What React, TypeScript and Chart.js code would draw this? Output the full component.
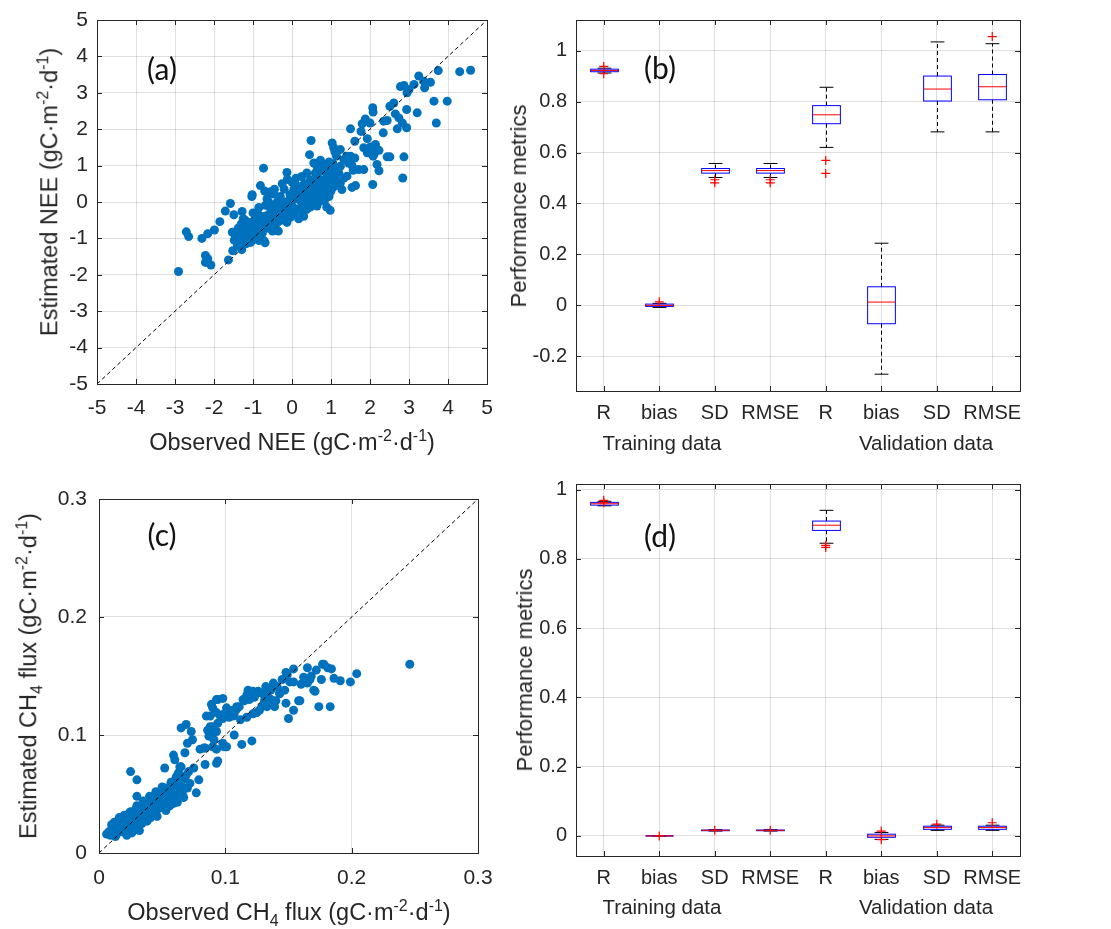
import React, { useEffect, useRef } from 'react';
import { Chart, registerables } from 'chart.js';
Chart.register(...registerables);

// ---------------- DATA ----------------
// Panel (a): observed vs estimated NEE (gC m-2 d-1)
const neeObs = [
  -2.91, -2.71, -2.65, -2.31, -2.16, -1.99, -1.85, -2.22, -2.16, -2.22, -2.08, -1.63, -1.71, -1.58, -1.49, -1.53, -1.48, -1.52, -1.29, -1.28, -1.25, -1.03, -0.73, -0.81, -0.70, -0.47, -0.72, -0.69,
  -1.02, -1.40, -1.45, -1.32, -1.19, -1.28, -1.15, -1.06, -0.98, -0.89, -0.81, -0.85, -0.72, -1.06, -0.94, -0.81, -1.02, -0.89, -0.64, -0.55, -0.43, -0.55, -0.38, -0.30, -0.17, -0.09, 0.04, 0.17, 0.30, 0.13, 0.26, 0.38, 0.47, 0.55, 0.68, 0.81, 0.89, -0.64, -0.55, -0.68, -0.30, -0.13, 0.17, -0.04, -0.13, -0.38, 0.04,
  4.58, 4.30, 3.75, 3.55, 3.40, 3.25, 3.38, 3.13, 2.87, 2.78, 3.00, 2.95, 3.64, 3.98, 3.70, 3.21, 2.94, 2.61, 2.51, 2.07, 2.08, 1.88, 1.80, 2.00, 2.35, 2.44, 2.65, 2.74, 2.83, 2.94, 2.70, 2.34, 1.50, 1.77, 1.61, 1.93, 1.84, 2.01, 2.14, 2.11, 2.23, 1.93, 2.08, 2.18, 2.23, 2.44, 2.51, 2.87, 2.84, 2.07, 1.63, 1.54, 1.84, 1.71, 1.57, 1.54, 1.61, 1.50, 1.28, 0.98, 0.49, 0.45, 0.56, 0.64, 1.03, 1.24, 1.14, 1.07, 1.33, 1.41, 1.45, 1.24, 1.07, 1.15, 0.85, 0.73, 0.90, 1.33, 1.41, 1.24, 1.03, 0.81, 0.64, 0.47, 0.38, 0.56, 0.73, 0.90, 0.47, 0.30, 0.83, 0.64, 0.38, 0.30,
  -1.38, -1.35, -1.22, -1.18, -1.12, -1.10, -0.95, -0.92, -0.88, -0.78, -0.75, -0.66, -0.60, -0.58, -0.50, -0.45, -0.40, -0.35, -0.25, -0.22, -0.20, -0.15, -0.10, -0.05, 0.00, 0.05, 0.08, 0.10, 0.12, 0.20, 0.22, 0.25, 0.32, 0.35, 0.40, 0.45, 0.50, 0.60, 0.62, 0.70, 0.75, 0.78, 0.85, 0.92, 0.95, 1.00, 1.05, 1.10, 1.15, 1.20, 1.00, -0.20, -0.30, 0.00, 0.10, 0.25, 0.60, -0.60, -0.45, -0.25, -0.12, -1.30, -1.20, -1.00, -0.85, -0.35, -0.50, -0.15, 0.15, 0.28,
  0.60, 0.73, 0.80, 0.95, 1.05, 1.10,
  -1.42, -1.36, -1.30, -1.26, -1.16, -1.08, -1.05, -0.98, -0.96, -0.90, -0.84, -0.76, -0.70, -0.62, -0.52, -0.48, -0.42, -0.33, -0.27, -0.18, -0.07, 0.02, 0.07, 0.18, 0.33, 0.42, 0.52, 0.66, 0.88, 1.12,
];
const neeEst = [
  -1.91, -0.82, -0.95, -1.00, -0.87, -0.77, -0.54, -1.47, -1.56, -1.66, -1.73, -1.59, -0.25, -0.04, -0.35, -0.83, -1.05, -1.34, -1.31, -0.26, -0.46, 0.15, 0.93, 0.45, 0.30, 0.22, -1.06, -1.12,
  0.20, -1.20, -0.93, -0.83, -0.74, -1.02, -0.93, -1.11, -1.02, -0.93, -0.83, -1.06, -0.69, -0.56, -0.42, -0.51, -0.74, -0.28, -0.37, -0.56, -0.46, -0.19, 0.00, -0.19, -0.32, -0.05, 0.09, 0.19, 0.28, -0.19, -0.05, 0.09, -0.14, 0.19, 0.00, 0.09, -0.14, 0.09, 0.28, -0.09, -0.51, -0.56, -0.46, -0.42, 0.81, -0.57, -0.31,
  3.62, 3.58, 3.61, 3.29, 3.14, 3.46, 3.32, 3.23, 3.20, 3.17, 3.09, 3.00, 2.77, 2.77, 2.17, 2.45, 2.54, 2.72, 2.63, 2.59, 2.47, 2.28, 2.15, 2.17, 2.22, 2.24, 2.42, 2.31, 2.17, 2.04, 2.01, 1.90, 2.01, 1.94, 1.67, 1.74, 1.49, 1.51, 1.58, 1.33, 1.42, 1.35, 1.26, 1.03, 0.86, 1.24, 1.24, 1.24, 0.66, 0.48, 0.45, 0.40, 0.89, 0.89, 0.87, 1.00, 1.21, 1.26, 0.34, -0.23, 1.69, 1.30, 1.07, 0.98, 1.62, 1.44, 1.26, 1.49, 1.17, 1.26, 1.07, 0.98, 0.89, 0.75, 0.98, 0.84, 0.71, 0.66, 0.71, 0.52, 0.48, 0.43, 0.52, 0.61, 0.80, 0.34, 0.25, 0.20, 0.07, 0.16, 0.03, -0.11, -0.20, -0.39,
  -0.72, -1.05, -0.95, -1.15, -0.85, -0.62, -0.78, -0.60, -0.72, -0.62, -0.40, -0.55, -0.72, -0.42, -0.35, -0.60, -0.25, -0.42, -0.30, -0.12, -0.45, 0.00, -0.25, 0.20, -0.10, 0.35, -0.25, 0.10, 0.45, 0.05, 0.35, -0.25, 0.50, -0.10, 0.30, 0.40, 0.00, 0.10, 0.30, 0.45, 0.20, 0.60, 0.35, 0.50, 0.15, 0.70, 0.40, 0.60, 0.95, 0.80, 0.30, 0.35, 0.15, 0.55, 0.65, 0.70, 0.80, 0.00, 0.35, 0.50, 0.62, -0.60, -0.50, -0.30, -0.15, -0.80, -0.80, -0.15, 0.30, 0.45,
  1.06, 1.15, 1.02, 1.10, 1.05, 1.38,
  -0.80, -0.95, -0.70, -0.88, -0.68, -0.78, -0.95, -0.55, -0.85, -0.50, -0.70, -0.85, -0.50, -0.62, -0.48, -0.25, -0.10, -0.30, -0.08, -0.22, 0.05, 0.25, 0.15, 0.40, 0.35, 0.20, 0.55, 0.65, 0.85, 0.45,
];
const neeDiag = [-5, 5];
const neeTicks = [-5, -4, -3, -2, -1, 0, 1, 2, 3, 4, 5];
const neeTickLabels = ['-5', '-4', '-3', '-2', '-1', '0', '1', '2', '3', '4', '5'];

// Panel (c): observed vs estimated CH4 flux (gC m-2 d-1)
const ch4Obs = [
  0.246, 0.204, 0.199, 0.191, 0.186, 0.184, 0.183, 0.176, 0.174, 0.177, 0.172, 0.165, 0.168, 0.171, 0.163, 0.160, 0.159, 0.154, 0.150, 0.154, 0.148, 0.151, 0.147, 0.143, 0.148, 0.140, 0.139, 0.138, 0.132, 0.127, 0.123, 0.129, 0.125, 0.119, 0.117, 0.114, 0.111, 0.109, 0.106, 0.103, 0.101, 0.098, 0.096, 0.093, 0.090, 0.098, 0.093, 0.085, 0.088, 0.106, 0.118, 0.122, 0.132, 0.135, 0.131,
  0.121, 0.113, 0.107, 0.094, 0.101, 0.098, 0.090, 0.083, 0.084, 0.079, 0.077, 0.072, 0.069, 0.070, 0.069, 0.065, 0.074, 0.073, 0.059, 0.060, 0.052, 0.063, 0.064, 0.061, 0.025, 0.030, 0.030, 0.090, 0.101, 0.088, 0.094, 0.091, 0.080, 0.068, 0.065,
  0.178, 0.181, 0.158, 0.089, 0.094, 0.086, 0.090, 0.093, 0.087, 0.099, 0.093, 0.084, 0.093, 0.107, 0.115, 0.120, 0.126, 0.131, 0.136, 0.141, 0.145, 0.149, 0.154, 0.162, 0.165, 0.170, 0.167, 0.143, 0.138, 0.133, 0.127, 0.122, 0.117, 0.112, 0.109, 0.103, 0.099,
  0.006, 0.008, 0.009, 0.010, 0.011, 0.012, 0.013, 0.014, 0.015, 0.016, 0.017, 0.018, 0.019, 0.020, 0.021, 0.022, 0.023, 0.024, 0.025, 0.026, 0.027, 0.028, 0.029, 0.030, 0.031, 0.032, 0.033, 0.034, 0.035, 0.036, 0.037, 0.038, 0.039, 0.040, 0.041, 0.042, 0.043, 0.044, 0.045, 0.046, 0.047, 0.048, 0.049, 0.050, 0.051, 0.052, 0.053, 0.054, 0.055, 0.056, 0.057, 0.058, 0.060, 0.061, 0.062, 0.063, 0.064, 0.066, 0.067, 0.068, 0.070,
  0.020, 0.025, 0.030, 0.035, 0.040, 0.045, 0.050, 0.012, 0.016, 0.022, 0.032, 0.027, 0.041,
  0.010, 0.013, 0.018, 0.021, 0.024, 0.026, 0.029, 0.031, 0.034, 0.038, 0.042, 0.046, 0.048, 0.053, 0.057, 0.059, 0.062, 0.066, 0.071, 0.075,
];
const ch4Est = [
  0.160, 0.152, 0.145, 0.146, 0.148, 0.156, 0.124, 0.147, 0.124, 0.160, 0.155, 0.157, 0.150, 0.137, 0.147, 0.143, 0.129, 0.121, 0.114, 0.156, 0.153, 0.145, 0.138, 0.136, 0.127, 0.129, 0.124, 0.144, 0.141, 0.136, 0.132, 0.124, 0.119, 0.130, 0.134, 0.130, 0.124, 0.124, 0.121, 0.119, 0.116, 0.114, 0.116, 0.119, 0.123, 0.131, 0.130, 0.116, 0.116, 0.116, 0.138, 0.137, 0.136, 0.131, 0.129,
  0.095, 0.092, 0.100, 0.078, 0.090, 0.093, 0.090, 0.089, 0.075, 0.062, 0.051, 0.059, 0.066, 0.093, 0.109, 0.106, 0.096, 0.103, 0.083, 0.079, 0.072, 0.068, 0.073, 0.064, 0.069, 0.062, 0.048, 0.102, 0.123, 0.107, 0.110, 0.096, 0.088, 0.085, 0.073,
  0.160, 0.157, 0.129, 0.126, 0.130, 0.104, 0.107, 0.103, 0.099, 0.090, 0.088, 0.089, 0.076, 0.118, 0.129, 0.135, 0.137, 0.133, 0.138, 0.141, 0.147, 0.151, 0.145, 0.149, 0.144, 0.138, 0.147, 0.135, 0.129, 0.124, 0.121, 0.118, 0.115, 0.113, 0.122, 0.115, 0.118,
  0.016, 0.018, 0.015, 0.020, 0.017, 0.022, 0.019, 0.016, 0.024, 0.020, 0.026, 0.018, 0.023, 0.028, 0.021, 0.025, 0.031, 0.019, 0.027, 0.022, 0.033, 0.029, 0.024, 0.035, 0.027, 0.031, 0.038, 0.025, 0.033, 0.029, 0.040, 0.035, 0.031, 0.043, 0.037, 0.033, 0.046, 0.039, 0.035, 0.042, 0.048, 0.038, 0.045, 0.052, 0.041, 0.047, 0.055, 0.044, 0.050, 0.040, 0.053, 0.046, 0.057, 0.049, 0.043, 0.060, 0.052, 0.056, 0.047, 0.063, 0.055,
  0.032, 0.035, 0.040, 0.044, 0.048, 0.052, 0.056, 0.026, 0.030, 0.015, 0.019, 0.024, 0.030,
  0.024, 0.014, 0.027, 0.030, 0.034, 0.017, 0.037, 0.021, 0.041, 0.027, 0.045, 0.031, 0.050, 0.036, 0.060, 0.042, 0.066, 0.050, 0.069, 0.072,
];
const ch4Diag = [0, 0.3];
const ch4Ticks = [0, 0.1, 0.2, 0.3];
const ch4TickLabels = ['0', '0.1', '0.2', '0.3'];

// Box plots (b) and (d): categories
const catPos = [1, 2, 3, 4, 5, 6, 7, 8];
const catLabels = ['R', 'bias', 'SD', 'RMSE', 'R', 'bias', 'SD', 'RMSE'];
const groupLabels = ['Training data', 'Validation data'];

// Panel (b): NEE model performance metrics
const bQ1 = [0.917, -0.004, 0.519, 0.519, 0.713, -0.072, 0.802, 0.807];
const bMed = [0.922, 0.0, 0.529, 0.529, 0.748, 0.013, 0.849, 0.858];
const bQ3 = [0.927, 0.005, 0.537, 0.537, 0.784, 0.073, 0.9, 0.906];
const bLo = [0.912, -0.008, 0.502, 0.502, 0.62, -0.27, 0.681, 0.681];
const bHi = [0.931, 0.008, 0.557, 0.557, 0.856, 0.244, 1.034, 1.027];
const bOutCat = [1, 1, 2, 3, 3, 4, 4, 5, 5, 8];
const bOutVal = [0.938, 0.909, 0.014, 0.493, 0.481, 0.493, 0.481, 0.569, 0.518, 1.055];
const bYTicks = [-0.2, 0, 0.2, 0.4, 0.6, 0.8, 1];
const bYTickLabels = ['-0.2', '0', '0.2', '0.4', '0.6', '0.8', '1'];

// Panel (d): CH4 model performance metrics
const dQ1 = [0.955, 0, 0.015, 0.015, 0.882, -0.004, 0.019, 0.019];
const dMed = [0.959, 0, 0.016, 0.016, 0.897, 0.0, 0.024, 0.024];
const dQ3 = [0.963, 0, 0.017, 0.017, 0.909, 0.005, 0.028, 0.028];
const dLo = [0.953, 0, 0.014, 0.014, 0.845, -0.01, 0.016, 0.016];
const dHi = [0.966, 0, 0.018, 0.018, 0.94, 0.01, 0.031, 0.031];
const dOutCat = [1, 1, 2, 3, 4, 5, 5, 6, 6, 7, 8];
const dOutVal = [0.969, 0.962, 0.0, 0.016, 0.016, 0.839, 0.833, 0.014, -0.011, 0.034, 0.038];
const dYTicks = [0, 0.2, 0.4, 0.6, 0.8, 1];
const dYTickLabels = ['0', '0.2', '0.4', '0.6', '0.8', '1'];

// ---------------- STYLE ----------------
const SANS = '"Liberation Sans", Arial, Helvetica, sans-serif';
const INK = '#262626';
const GRID = 'rgba(38,38,38,0.15)';
const BLUE = '#0072BD';

const framePlugin = {
  id: 'frame',
  afterDraw(chart: any) {
    const { ctx, chartArea: a, scales } = chart;
    const L = 5;
    ctx.save();
    ctx.strokeStyle = INK;
    ctx.lineWidth = 1;
    ctx.setLineDash([]);
    ctx.beginPath();
    const xs = scales.x;
    const ys = scales.y;
    xs.ticks.forEach((t: any) => {
      const p = Math.round(xs.getPixelForValue(t.value)) + 0.5;
      ctx.moveTo(p, a.bottom);
      ctx.lineTo(p, a.bottom - L);
      ctx.moveTo(p, a.top);
      ctx.lineTo(p, a.top + L);
    });
    ys.ticks.forEach((t: any) => {
      const p = Math.round(ys.getPixelForValue(t.value)) + 0.5;
      ctx.moveTo(a.left, p);
      ctx.lineTo(a.left + L, p);
      ctx.moveTo(a.right, p);
      ctx.lineTo(a.right - L, p);
    });
    ctx.stroke();
    ctx.strokeRect(
      Math.round(a.left) + 0.5,
      Math.round(a.top) + 0.5,
      Math.round(a.right - a.left),
      Math.round(a.bottom - a.top)
    );
    ctx.restore();
  },
};

const boxPlugin = {
  id: 'boxes',
  beforeDatasetsDraw(chart: any, _args: any, opts: any) {
    const { ctx, scales } = chart;
    const x = scales.x;
    const y = scales.y;
    const { q1, med, q3, lo, hi, pos, half } = opts;
    const Y = (v: number) => y.getPixelForValue(v);
    ctx.save();
    ctx.lineWidth = 1;
    pos.forEach((c: number, i: number) => {
      const cx = Math.round(x.getPixelForValue(c)) + 0.5;
      const hw = x.getPixelForValue(c + half) - x.getPixelForValue(c);
      const cw = hw / 2;
      ctx.strokeStyle = '#000000';
      ctx.setLineDash([4, 3]);
      ctx.beginPath();
      ctx.moveTo(cx, Y(q3[i]));
      ctx.lineTo(cx, Y(hi[i]));
      ctx.moveTo(cx, Y(q1[i]));
      ctx.lineTo(cx, Y(lo[i]));
      ctx.stroke();
      ctx.setLineDash([]);
      ctx.beginPath();
      ctx.moveTo(cx - cw, Y(hi[i]));
      ctx.lineTo(cx + cw, Y(hi[i]));
      ctx.moveTo(cx - cw, Y(lo[i]));
      ctx.lineTo(cx + cw, Y(lo[i]));
      ctx.stroke();
      ctx.strokeStyle = '#0000FF';
      ctx.strokeRect(cx - hw, Y(q3[i]), 2 * hw, Y(q1[i]) - Y(q3[i]));
      ctx.strokeStyle = '#FF0000';
      ctx.beginPath();
      ctx.moveTo(cx - hw, Y(med[i]));
      ctx.lineTo(cx + hw, Y(med[i]));
      ctx.stroke();
    });
    ctx.restore();
  },
};

const fitY = (w: number) => (s: any) => {
  s.width = w;
  s.paddingTop = 0;
  s.paddingBottom = 0;
  s.paddingLeft = 0;
  s.paddingRight = 0;
};
const fitX = (h: number) => (s: any) => {
  s.height = h;
  s.paddingTop = 0;
  s.paddingBottom = 0;
  s.paddingLeft = 0;
  s.paddingRight = 0;
};

type Geo = { top: number; right: number; yW: number; xH: number; xPad: number; yPad: number; font: number };

function axis(
  min: number,
  max: number,
  values: number[],
  labels: string[],
  geo: Geo,
  isX: boolean
) {
  return {
    type: 'linear',
    min,
    max,
    afterBuildTicks: (s: any) => {
      s.ticks = values.map((v) => ({ value: v }));
    },
    afterFit: isX ? fitX(geo.xH) : fitY(geo.yW),
    ticks: {
      autoSkip: false,
      maxRotation: 0,
      minRotation: 0,
      padding: isX ? geo.xPad : geo.yPad,
      color: INK,
      font: { family: SANS, size: geo.font },
      callback: (_v: any, i: number) => labels[i],
    },
    grid: { color: GRID, lineWidth: 1, drawTicks: false },
    border: { display: false },
  };
}

function scatterConfig(
  obs: number[],
  est: number[],
  diag: number[],
  ticks: number[],
  tickLabels: string[],
  geo: Geo
) {
  const min = ticks[0];
  const max = ticks[ticks.length - 1];
  return {
    type: 'scatter',
    data: {
      datasets: [
        {
          data: diag.map((v) => ({ x: v, y: v })),
          showLine: true,
          borderColor: '#000000',
          borderWidth: 1,
          borderDash: [4, 3],
          pointRadius: 0,
          fill: false,
        },
        {
          data: obs.map((x, i) => ({ x, y: est[i] })),
          pointRadius: 4.5,
          pointHoverRadius: 4.5,
          backgroundColor: BLUE,
          borderWidth: 0,
        },
      ],
    },
    options: {
      responsive: false,
      animation: false,
      devicePixelRatio: 1,
      events: [],
      layout: { padding: { top: geo.top, right: geo.right, left: 0, bottom: 0 } },
      plugins: { legend: { display: false }, tooltip: { enabled: false } },
      scales: {
        x: axis(min, max, ticks, tickLabels, geo, true),
        y: axis(min, max, ticks, tickLabels, geo, false),
      },
    },
    plugins: [framePlugin],
  };
}

function boxConfig(
  stats: { q1: number[]; med: number[]; q3: number[]; lo: number[]; hi: number[] },
  outCat: number[],
  outVal: number[],
  yMin: number,
  yMax: number,
  yTicks: number[],
  yLabels: string[],
  geo: Geo
) {
  return {
    type: 'scatter',
    data: {
      datasets: [
        {
          data: outCat.map((c, i) => ({ x: c, y: outVal[i] })),
          pointStyle: 'cross',
          pointRadius: 4.5,
          pointHoverRadius: 4.5,
          borderColor: '#FF0000',
          backgroundColor: '#FF0000',
          borderWidth: 1.2,
        },
      ],
    },
    options: {
      responsive: false,
      animation: false,
      devicePixelRatio: 1,
      events: [],
      layout: { padding: { top: geo.top, right: geo.right, left: 0, bottom: 0 } },
      plugins: {
        legend: { display: false },
        tooltip: { enabled: false },
        boxes: { ...stats, pos: catPos, half: 0.25 },
      },
      scales: {
        x: axis(0.5, 8.5, catPos, catLabels, geo, true),
        y: axis(yMin, yMax, yTicks, yLabels, geo, false),
      },
    },
    plugins: [boxPlugin, framePlugin],
  };
}

function ChartBox(props: { left: number; top: number; width: number; height: number; make: () => any }) {
  const ref = useRef<HTMLCanvasElement>(null);
  useEffect(() => {
    const chart = new Chart(ref.current as HTMLCanvasElement, props.make());
    return () => chart.destroy();
  }, []);
  return (
    <canvas
      ref={ref}
      width={props.width}
      height={props.height}
      style={{ position: 'absolute', left: props.left, top: props.top, width: props.width, height: props.height }}
    />
  );
}

function Txt(props: { x: number; y: number; size: number; rot?: boolean; family?: string; color?: string; children: any }) {
  return (
    <div
      style={{
        position: 'absolute',
        left: props.x,
        top: props.y,
        transform: `translate(-50%, -50%)${props.rot ? ' rotate(-90deg)' : ''}`,
        whiteSpace: 'nowrap',
        fontSize: props.size,
        fontFamily: props.family || SANS,
        color: props.color || INK,
        lineHeight: 1,
      }}
    >
      {props.children}
    </div>
  );
}

const Sup = (p: { t: string }) => (
  <span style={{ fontSize: '0.68em', position: 'relative', top: '-0.55em' }}>{p.t}</span>
);
const Sub = (p: { t: string }) => (
  <span style={{ fontSize: '0.68em', position: 'relative', top: '0.35em' }}>{p.t}</span>
);
const Unit = () => (
  <>
    (gC·m<Sup t="-2" />·d<Sup t="-1" />)
  </>
);

const geoA: Geo = { top: 20, right: 13, yW: 97, xH: 46, xPad: 12, yPad: 9, font: 21 };
const geoB: Geo = { top: 20, right: 20, yW: 76, xH: 49, xPad: 10.5, yPad: 9, font: 20 };
const geoC: Geo = { top: 39, right: 22, yW: 99, xH: 47, xPad: 12.5, yPad: 12, font: 21 };
const geoD: Geo = { top: 24, right: 20, yW: 76, xH: 44, xPad: 10, yPad: 9, font: 20 };

export default function App() {
  return (
    <div style={{ position: 'absolute', left: 0, top: 0, width: 1111, height: 929, background: '#ffffff', overflow: 'hidden' }}>
      <ChartBox left={0} top={0} width={500} height={430}
        make={() => scatterConfig(neeObs, neeEst, neeDiag, neeTicks, neeTickLabels, geoA)} />
      <ChartBox left={500} top={0} width={540} height={440}
        make={() => boxConfig({ q1: bQ1, med: bMed, q3: bQ3, lo: bLo, hi: bHi }, bOutCat, bOutVal, -0.336, 1.12, bYTicks, bYTickLabels, geoB)} />
      <ChartBox left={0} top={460} width={500} height={440}
        make={() => scatterConfig(ch4Obs, ch4Est, ch4Diag, ch4Ticks, ch4TickLabels, geoC)} />
      <ChartBox left={500} top={460} width={540} height={440}
        make={() => boxConfig({ q1: dQ1, med: dMed, q3: dQ3, lo: dLo, hi: dHi }, dOutCat, dOutVal, -0.058, 1.016, dYTicks, dYTickLabels, geoD)} />

      {/* Panel (a) */}
      <Txt x={292} y={443} size={23.5}>Observed NEE <Unit /></Txt>
      <Txt x={50} y={192} size={23.5} rot>Estimated NEE <Unit /></Txt>
      <Txt x={162} y={68} size={30} family='Lato, "Open Sans", sans-serif' color="#111">(a)</Txt>

      {/* Panel (b) */}
      <Txt x={519} y={206} size={22} rot>Performance metrics</Txt>
      <Txt x={662} y={443} size={20.5}>{groupLabels[0]}</Txt>
      <Txt x={926} y={443} size={20.5}>{groupLabels[1]}</Txt>
      <Txt x={660} y={67} size={30} family='Lato, "Open Sans", sans-serif' color="#111">(b)</Txt>

      {/* Panel (c) */}
      <Txt x={289} y={913} size={23.5}>Observed CH<Sub t="4" /> flux <Unit /></Txt>
      <Txt x={29} y={676} size={23.5} rot>Estimated CH<Sub t="4" /> flux <Unit /></Txt>
      <Txt x={162} y={534} size={30} family='Lato, "Open Sans", sans-serif' color="#111">(c)</Txt>

      {/* Panel (d) */}
      <Txt x={525} y={670} size={22} rot>Performance metrics</Txt>
      <Txt x={662} y={907} size={20.5}>{groupLabels[0]}</Txt>
      <Txt x={926} y={907} size={20.5}>{groupLabels[1]}</Txt>
      <Txt x={660} y={535} size={30} family='Lato, "Open Sans", sans-serif' color="#111">(d)</Txt>
    </div>
  );
}
